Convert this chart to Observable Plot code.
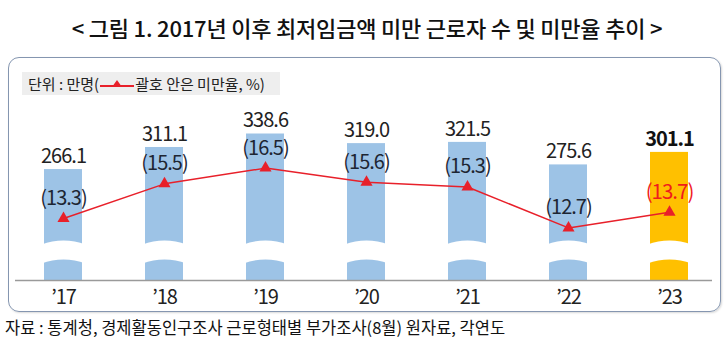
<!DOCTYPE html>
<html><head><meta charset="utf-8">
<script src="https://cdn.jsdelivr.net/npm/d3@7"></script>
<script src="https://cdn.jsdelivr.net/npm/@observablehq/plot@0.6"></script>
<style>
body{margin:0;background:#fff;font-family:"Noto Sans CJK KR","Noto Sans",sans-serif;}
#wrap{position:relative;width:726px;height:363px;overflow:hidden;}
#title{position:absolute;left:0;top:13px;width:734px;text-align:center;font-size:22px;font-weight:500;color:#111;line-height:28px;white-space:nowrap;letter-spacing:-0.2px;}
#box{position:absolute;left:8px;top:57px;width:711px;height:253px;border:1.5px solid #8596b0;border-radius:11px;box-shadow:1px 1px 2px rgba(0,0,0,0.15);}
#legend{position:absolute;left:22px;top:72px;width:252px;padding-left:6px;height:23px;background:#eeeeee;font-size:15px;line-height:23px;color:#222;white-space:nowrap;}
#legend svg{vertical-align:middle;margin-top:-3px;}
#chart{position:absolute;left:8px;top:90px;}
#caption{position:absolute;left:5px;top:315px;font-size:16.5px;color:#111;white-space:nowrap;}
</style>
</head><body>
<div id="wrap">
  <div id="title">&lt; 그림 1. 2017년 이후 최저임금액 미만 근로자 수 및 미만율 추이 &gt;</div>
  <div id="box"></div>
  <div id="legend">단위 : 만명(<svg width="36" height="12"><line x1="1" y1="8" x2="35" y2="8" stroke="#e8202a" stroke-width="2"/><path d="M18,2 L23,9 L13,9 Z" fill="#e8202a"/></svg>괄호 안은 미만율, %)</div>
  <div id="chart"></div>
  <div id="caption">자료 : 통계청, 경제활동인구조사 근로형태별 부가조사(8월) 원자료, 각연도</div>
</div>
<script>
const years = ["’17","’18","’19","’20","’21","’22","’23"];
const workers = [266.1, 311.1, 338.6, 319.0, 321.5, 275.6, 301.1];
const rates = [13.3, 15.5, 16.5, 15.6, 15.3, 12.7, 13.7];
const highlight = "’23";

const BASE = 40, BREAK = 97;
// secondary axis: rate (%) mapped into the bar scale's units
const rateToY = d3.scaleLinear([12, 17], [124.7, 285.1]);
const fmt1 = d3.format(".1f");

const data = years.map((year, i) => ({
  year, workers: workers[i], rate: rates[i], rateY: rateToY(rates[i]),
  wl: fmt1(workers[i]), rl: "(" + fmt1(rates[i]) + ")", hi: year === highlight
}));

const wave = {
  draw(ctx) {
    const w = 22;
    ctx.moveTo(-w, -8);
    ctx.bezierCurveTo(-8, -13.3, 8, -13.3, w, -8);
    ctx.lineTo(w, 11);
    ctx.bezierCurveTo(8, 5.7, -8, 5.7, -w, 11);
    ctx.closePath();
  }
};

const font = '"Noto Sans CJK KR","Noto Sans",sans-serif';
const chart = Plot.plot({
  width: 712, height: 222,
  marginTop: 33, marginBottom: 32, marginLeft: 3, marginRight: 0,
  style: {fontFamily: font, background: "transparent", letterSpacing: "-1px", overflow: "visible"},
  x: {domain: years, paddingInner: 0.626, paddingOuter: 0.32, label: null},
  y: {domain: [BASE, 360], axis: null},
  marks: [
    Plot.barY(data.filter(d => !d.hi), {x: "year", y1: BASE, y2: "workers", fill: "#9DC3E6"}),
    Plot.barY(data.filter(d => d.hi), {x: "year", y1: BASE, y2: "workers", fill: "#FFC000"}),
    Plot.dot(data, {x: "year", y: BREAK, symbol: wave, r: 4, fill: "white", stroke: "none"}),
    Plot.ruleY([BASE], {stroke: "#9a9a9a", strokeWidth: 1.5, insetLeft: 4, insetRight: 8}),
    Plot.line(data, {x: "year", y: "rateY", stroke: "#e8202a", strokeWidth: 1.5}),
    Plot.dot(data, {x: "year", y: "rateY", symbol: "triangle", r: 4.5, fill: "#e8202a", stroke: "none"}),
    Plot.text(data.filter(d => !d.hi), {x: "year", y: "workers", text: "wl", dy: -13, fontSize: 20, fill: "#222"}),
    Plot.text(data.filter(d => d.hi), {x: "year", y: "workers", text: "wl", dy: -13, fontSize: 20, fontWeight: "bold", fill: "#111"}),
    Plot.text(data.filter(d => !d.hi), {x: "year", y: "rateY", text: "rl", dy: -20, fontSize: 20, fill: "#1d2633"}),
    Plot.text(data.filter(d => d.hi), {x: "year", y: "rateY", text: "rl", dy: -20, fontSize: 20.5, fill: "#f01c1c"}),
    Plot.axisX({tickSize: 0, tickPadding: 9, fontSize: 20, fill: "#222", label: null})
  ]
});
document.getElementById("chart").appendChild(chart);
</script>
</body></html>
